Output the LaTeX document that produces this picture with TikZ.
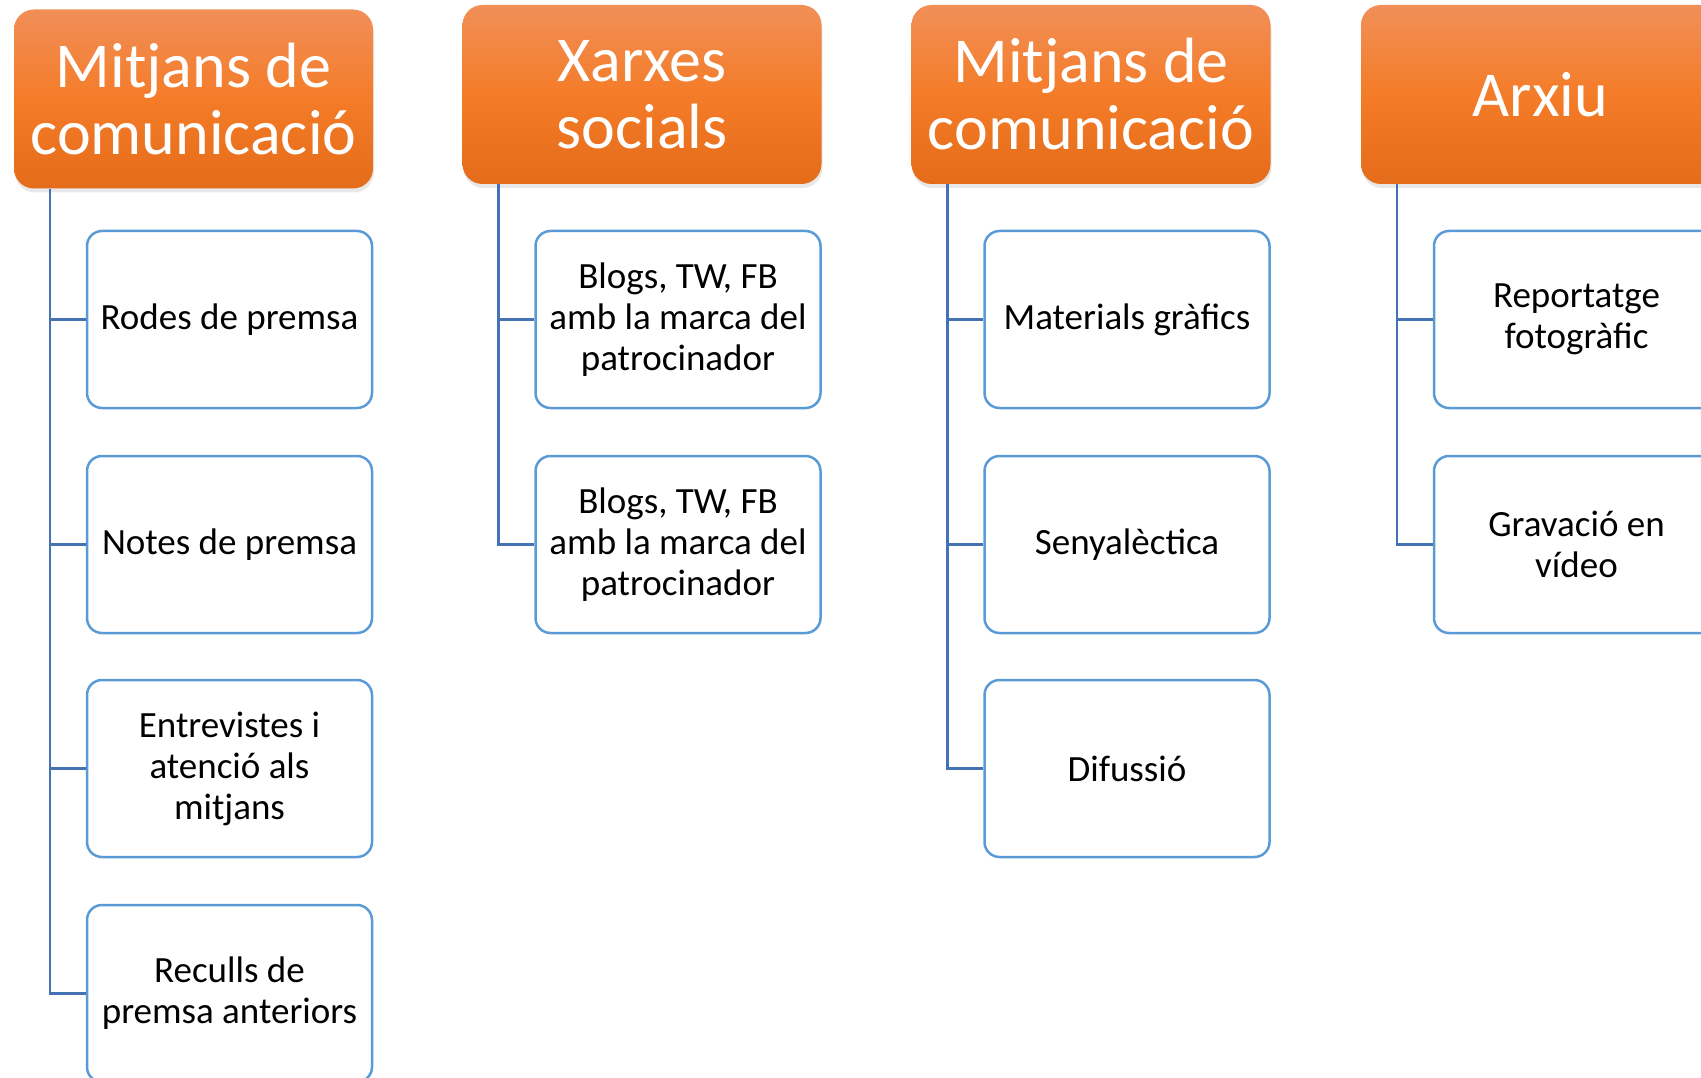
\documentclass[tikz,border=0pt]{standalone}
\usepackage{fontspec}
\setmainfont{Carlito}
\usetikzlibrary{shadows}
\definecolor{otop}{RGB}{241,143,88}
\definecolor{omid}{RGB}{244,124,40}
\definecolor{obot}{RGB}{228,108,26}
\definecolor{bbox}{RGB}{91,155,213}
\definecolor{blink}{RGB}{68,114,178}
\begin{document}
\begin{tikzpicture}[x=1pt,y=-1pt,
  head/.style={rounded corners=20pt, minimum width=359pt, minimum height=179pt,
    top color=otop, bottom color=obot, middle color=omid, text=white,
    font=\fontsize{64}{67}\selectfont, align=center, inner sep=0pt,
    drop shadow={shadow xshift=1pt, shadow yshift=-4pt, opacity=.18}},
  item/.style={rounded corners=15pt, draw=bbox, line width=2.5pt, fill=white,
    minimum width=285pt, minimum height=177pt, text=black,
    font=\fontsize{37}{41}\selectfont, align=center, inner sep=0pt},
  link/.style={draw=blink, line width=2.5pt}]
\clip (0,0) rectangle (1701,1078);
\fill[white] (0,0) rectangle (1701,1078);

% headers
\node[head] (h1) at (193.5,99) {Mitjans de\\comunicació};
\node[head] (h2) at (642,94.5) {Xarxes\\socials};
\node[head] (h3) at (1091,94.5) {Mitjans de\\comunicació};
\node[head] (h4) at (1540.5,94.5) {Arxiu};

% trunk start points
\coordinate (t1) at ([xshift=36pt]h1.south west);
\coordinate (t2) at ([xshift=36pt]h2.south west);
\coordinate (t3) at ([xshift=36pt]h3.south west);
\coordinate (t4) at ([xshift=36pt]h4.south west);

% column 1
\node[item] (a1) at (229.5,319.5) {Rodes de premsa};
\node[item] (a2) at (229.5,544.5) {Notes de premsa};
\node[item] (a3) at (229.5,768.5) {Entrevistes i\\atenció als\\mitjans};
\node[item] (a4) at (229.5,993.5) {Reculls de\\premsa anteriors};

% column 2
\node[item] (b1) at (678,319.5) {Blogs, TW, FB\\amb la marca del\\patrocinador};
\node[item] (b2) at (678,544.5) {Blogs, TW, FB\\amb la marca del\\patrocinador};

% column 3
\node[item] (c1) at (1127,319.5) {Materials gràfics};
\node[item] (c2) at (1127,544.5) {Senyalèctica};
\node[item] (c3) at (1127,768.5) {Difussió};

% column 4
\node[item] (d1) at (1576.5,319.5) {Reportatge\\fotogràfic};
\node[item] (d2) at (1576.5,544.5) {Gravació en\\vídeo};

% connectors
\foreach \c in {a1,a2,a3,a4} \draw[link] (t1) |- (\c.west);
\foreach \c in {b1,b2} \draw[link] (t2) |- (\c.west);
\foreach \c in {c1,c2,c3} \draw[link] (t3) |- (\c.west);
\foreach \c in {d1,d2} \draw[link] (t4) |- (\c.west);
\end{tikzpicture}
\end{document}
